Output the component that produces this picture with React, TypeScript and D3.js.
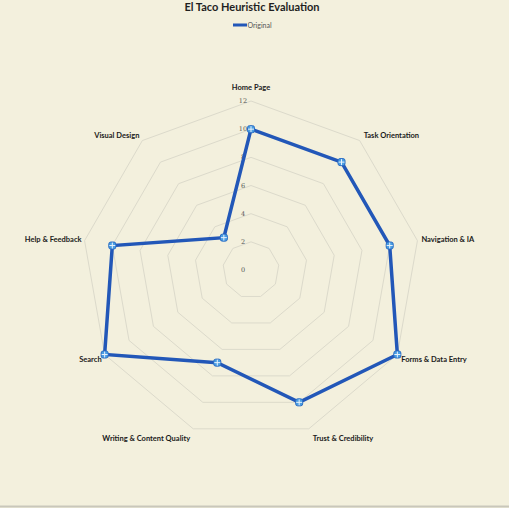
import React from "react";
import * as d3 from "d3";

const categories = [
  "Home Page",
  "Task Orientation",
  "Navigation & IA",
  "Forms & Data Entry",
  "Trust & Credibility",
  "Writing & Content Quality",
  "Search",
  "Help & Feedback",
  "Visual Design",
];
const originalValues = [10, 10, 10, 12, 10, 7, 12, 10, 3];
const tickValues = [0, 2, 4, 6, 8, 10, 12];
const seriesName = "Original";
const title = "El Taco Heuristic Evaluation";

const W = 509;
const H = 508;
const cx = 251;
const cy = 270;
const R = 169;

export default function App() {
  const r = d3.scaleLinear().domain([0, 12]).range([0, R]);
  const n = categories.length;
  const ang = d3.scaleLinear().domain([0, n]).range([0, 2 * Math.PI]);
  const pt = (i: number, v: number): [number, number] => {
    const a = ang(i);
    return [cx + Math.sin(a) * r(v), cy - Math.cos(a) * r(v)];
  };
  const ringPath = (v: number) =>
    d3.line()(d3.range(n + 1).map((i) => pt(i % n, v))) as string;
  const seriesPts = originalValues.map((v, i) => pt(i, v));
  const seriesPath = d3.line()([...seriesPts, seriesPts[0]]) as string;
  const font = "Lato, 'Open Sans', sans-serif";
  const blue = "#2257b8";

  return (
    <div style={{ position: "absolute", left: 0, top: 0 }}>
      <svg width={W} height={H} style={{ display: "block" }}>
        <rect x={0} y={0} width={W} height={H} fill="#f3f0dd" />
        <line x1={0} x2={W} y1={H - 1.5} y2={H - 1.5} stroke="#c9c7bb" strokeWidth={2} />
        <text
          x={252}
          y={6}
          textAnchor="middle"
          dominantBaseline="central"
          fontFamily={font}
          fontWeight="bold"
          fontSize={11}
          fill="#1f1f1f"
        >
          {title}
        </text>
        <line x1={233} x2={247} y1={25} y2={25} stroke={blue} strokeWidth={3} />
        <text x={247.5} y={25} dominantBaseline="central" fontFamily={font} fontSize={7} fill="#555">
          {seriesName}
        </text>
        {tickValues
          .filter((t) => t > 0)
          .map((t) => (
            <path key={t} d={ringPath(t)} fill="none" stroke="#dcdacb" strokeWidth={1} />
          ))}
        {tickValues.map((t) => (
          <text
            key={"t" + t}
            x={cx - 8}
            y={cy - r(t)}
            textAnchor="middle"
            dominantBaseline="central"
            fontFamily="'DejaVu Serif', serif"
            fontSize={6.5}
            fill="#555"
          >
            {t}
          </text>
        ))}
        {categories.map((c, i) => {
          const a = ang(i);
          const [vx, vy] = pt(i, 12);
          const s = Math.sin(a);
          const co = Math.cos(a);
          let anchor = "middle";
          let x = vx;
          if (s > 0.1) {
            anchor = "start";
            x = vx + 4;
          } else if (s < -0.1) {
            anchor = "end";
            x = vx - 3;
          }
          let y = vy;
          if (co > 0.99) y = vy - 14;
          else if (co > 0) y = vy - co * 6.5;
          else y = vy - co * 10;
          return (
            <text
              key={c}
              x={x}
              y={y}
              textAnchor={anchor}
              dominantBaseline="central"
              fontFamily={font}
              fontWeight="bold"
              fontSize={7.5}
              fill="#1a1a1a"
            >
              {c}
            </text>
          );
        })}
        <path d={seriesPath} fill="none" stroke={blue} strokeWidth={3.5} strokeLinejoin="miter" />
        {seriesPts.map(([x, y], i) => (
          <g key={"m" + i}>
            <rect x={x - 3.5} y={y - 3.5} width={7} height={7} rx={2} fill="#4a9ee3" stroke="#2a6cc4" strokeWidth={1} />
            <line x1={x - 3} x2={x + 3} y1={y} y2={y} stroke="#e8f2fb" strokeWidth={1} />
            <line x1={x} x2={x} y1={y - 3} y2={y + 3} stroke="#e8f2fb" strokeWidth={1} />
          </g>
        ))}
      </svg>
    </div>
  );
}
